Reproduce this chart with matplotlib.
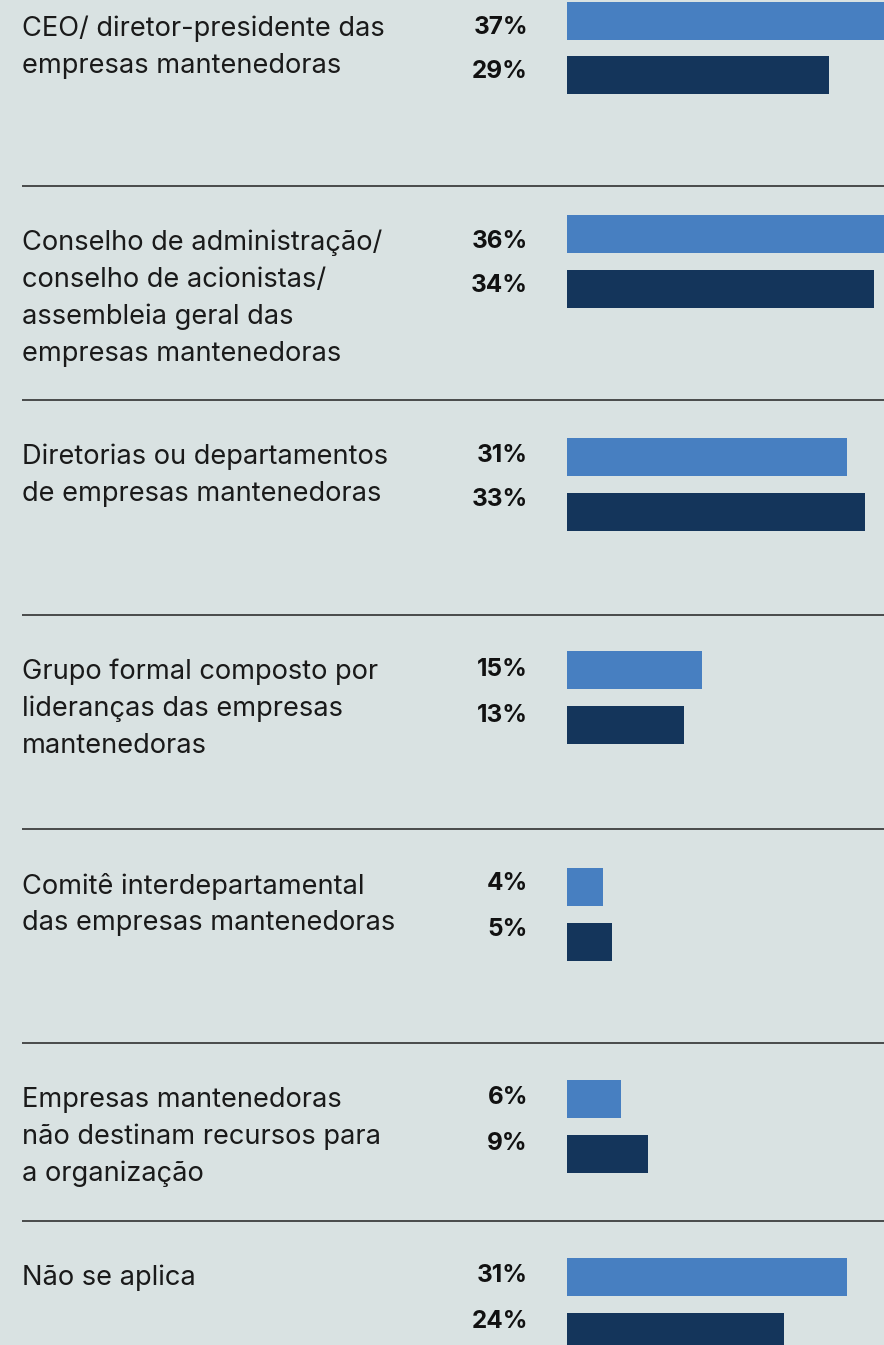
import matplotlib
matplotlib.use("Agg")
import matplotlib.pyplot as plt

categories = [
    ["CEO/ diretor-presidente das", "empresas mantenedoras"],
    ["Conselho de administração/", "conselho de acionistas/", "assembleia geral das", "empresas mantenedoras"],
    ["Diretorias ou departamentos", "de empresas mantenedoras"],
    ["Grupo formal composto por", "lideranças das empresas", "mantenedoras"],
    ["Comitê interdepartamental", "das empresas mantenedoras"],
    ["Empresas mantenedoras", "não destinam recursos para", "a organização"],
    ["Não se aplica"],
]
series_a = [37, 36, 31, 15, 4, 6, 31]
series_b = [29, 34, 33, 13, 5, 9, 24]
pct_labels_a = [f"{v}%" for v in series_a]
pct_labels_b = [f"{v}%" for v in series_b]

# layout (pixels)
W, H = 884, 1345
BG = "#d9e2e2"
C_A = "#477fc1"
C_B = "#14355b"
block_tops = [-28, 186, 400, 615, 829, 1043, 1221]
bar_shift = [-7.5, -8, 1, -1, 2, 0, 0]
bar_x0 = 567
px_per_pct = 9.03

fig = plt.figure(figsize=(W / 100, H / 100), dpi=100, facecolor=BG)
ov = fig.add_axes([0, 0, 1, 1])
ov.set_xlim(0, W)
ov.set_ylim(H, 0)
ov.axis("off")
ov.set_facecolor(BG)

bx = fig.add_axes([bar_x0 / W, 0, 1 - bar_x0 / W, 1])
bx.set_xlim(0, (W - bar_x0) / px_per_pct)
bx.set_ylim(H, 0)
bx.axis("off")
bx.patch.set_alpha(0)

font = "Inter"
for i, top in enumerate(block_tops):
    if i > 0:
        ov.plot([22, W], [top, top], color="#222222", lw=1.1, solid_capstyle="butt")
    y1 = top + 56 + bar_shift[i]
    y2 = y1 + 54.5
    bx.barh(y1, series_a[i], height=38, color=C_A, left=0)
    bx.barh(y2, series_b[i], height=38, color=C_B, left=0)
    for j, line in enumerate(categories[i]):
        ov.text(22, top + 57 + 37 * j, line, fontsize=19.6, family=font,
                color="#1a1a1a", ha="left", va="center")
    ov.text(528, top + 55, pct_labels_a[i], fontsize=17.5, family=font,
            weight="bold", color="#111111", ha="right", va="center")
    ov.text(528, top + 100, pct_labels_b[i], fontsize=17.5, family=font,
            weight="bold", color="#111111", ha="right", va="center")

fig.savefig("out.png", dpi=100, facecolor=BG)
